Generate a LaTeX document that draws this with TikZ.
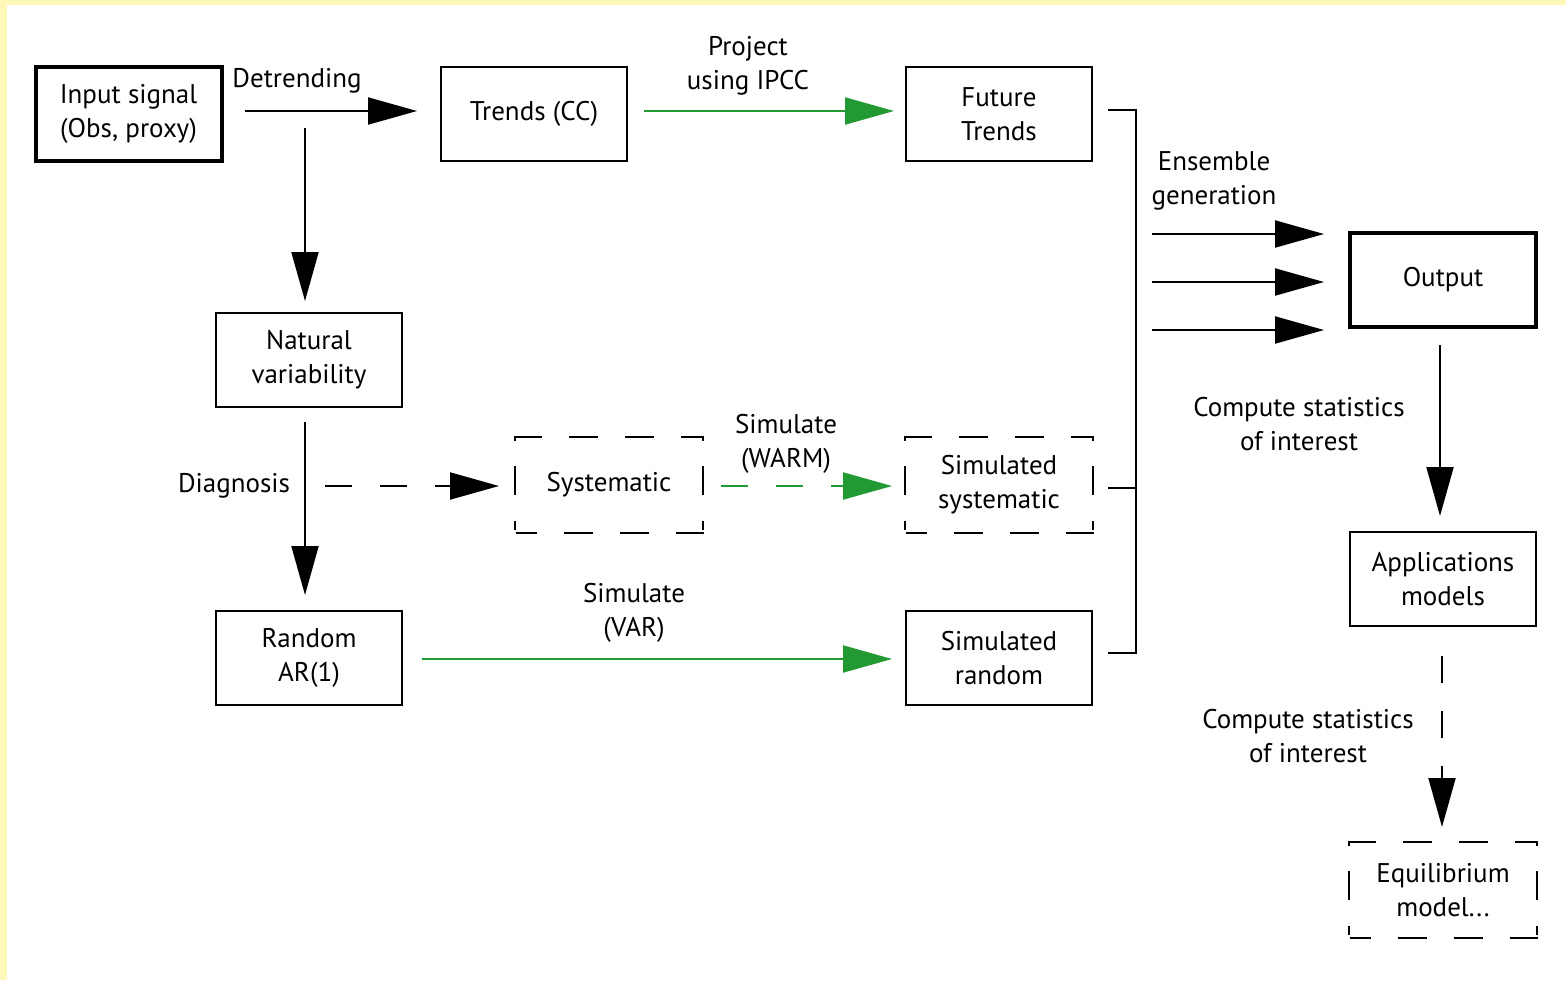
\documentclass[tikz,border=0pt]{standalone}
\usepackage{fontspec}
\setmainfont{PT Sans}
\usetikzlibrary{arrows.meta}
\definecolor{bgyellow}{RGB}{255,248,184}
\definecolor{arrgreen}{RGB}{34,153,51}
\tikzset{
  box/.style={draw=black, line width=2pt, minimum width=186pt, minimum height=94pt, inner sep=0pt, align=center, font=\fontsize{27}{34}\selectfont},
  thickbox/.style={box, line width=4pt},
  dbox/.style={box, draw=none},
  hdash/.style={line width=2pt, line cap=rect, dash pattern=on 26pt off 29pt on 27pt off 29pt on 27pt off 29pt on 19pt off 100pt},
  vdash/.style={line width=2pt, line cap=rect, dash pattern=on 3pt off 27pt on 27pt off 28pt on 7pt off 100pt},
  lbl/.style={align=center, inner sep=0pt, font=\fontsize{27}{34}\selectfont},
  conn/.style={line width=2pt, -{Triangle[length=49pt,width=27pt]}},
  gconn/.style={conn, draw=arrgreen, -{Triangle[length=49pt,width=27pt,fill=arrgreen]}},
  dsh/.style={dash pattern=on 27pt off 28pt},
  plain/.style={line width=2pt}
}
\newcommand\dashedbox[1]{%
  \draw[hdash] (#1.north west) -- (#1.north east);
  \draw[hdash] (#1.south east) -- (#1.south west);
  \draw[vdash] (#1.north west) -- (#1.south west);
  \draw[vdash] (#1.north east) -- (#1.south east);}
\begin{document}
\begin{tikzpicture}[x=1pt,y=-1pt]
\useasboundingbox (0,0) rectangle (1566,980);
\fill[bgyellow] (0,0) rectangle (1566,980);
\fill[white] (7,5) rectangle (1566,980);

% boxes
\node[thickbox] (in) at (128.5,114) {Input signal\\(Obs, proxy)};
\node[box] (trends) at (534,114) {Trends (CC)};
\node[box] (future) at (999,114) {Future\\Trends};
\node[box] (nat) at (309,360) {Natural\\variability};
\node[dbox] (sys) at (609,485) {Systematic};
\node[dbox] (simsys) at (999,485) {Simulated\\systematic};
\node[box] (rand) at (309,658) {Random\\AR(1)};
\node[box] (simrand) at (999,658) {Simulated\\random};
\node[thickbox] (out) at (1443,280) {Output};
\node[box] (app) at (1443,579) {Applications\\models};
\node[dbox] (eq) at (1443,890) {Equilibrium\\model...};
\dashedbox{sys}
\dashedbox{simsys}
\dashedbox{eq}

% labels
\node[lbl] (ldet) at (297,81) {Detrending};
\node[lbl] (lproj) at (748,66) {Project\\using IPCC};
\node[lbl] (lens) at (1214,181) {Ensemble\\generation};
\node[lbl] (lcomp1) at (1299,424) {Compute statistics\\of interest};
\node[lbl] (lcomp2) at (1308,736) {Compute statistics\\of interest};
\node[lbl] (ldiag) at (234,486) {Diagnosis};
\node[lbl] (lwarm) at (786,444) {Simulate\\(WARM)};
\node[lbl] (lvar) at (634,613) {Simulate\\(VAR)};

% connectors
\draw[conn, shorten <=21pt, shorten >=23pt] ([yshift=3pt]in.east) -- ([yshift=3pt]trends.west);
\coordinate (split) at (305,128);
\draw[conn, shorten >=11pt] (split) -- ([xshift=-4pt]nat.north);
\draw[gconn, shorten <=16pt, shorten >=11pt] ([yshift=3pt]trends.east) -- ([yshift=3pt]future.west);
\draw[conn, shorten <=14pt, shorten >=15pt] ([xshift=-4pt]nat.south) -- ([xshift=-4pt]rand.north);
\coordinate (diag) at (305,486);
\draw[conn, dsh, shorten <=20pt, shorten >=16pt] (diag) -- ([yshift=-1pt]sys.west);
\draw[gconn, dsh, shorten <=18pt, shorten >=13pt] ([yshift=-1pt]sys.east) -- ([yshift=-1pt]simsys.west);
\draw[gconn, shorten <=19pt, shorten >=13pt] ([yshift=-1pt]rand.east) -- ([yshift=-1pt]simrand.west);

% bracket
\coordinate (bt) at ([xshift=15pt,yshift=4pt]future.east);
\coordinate (bm) at ([xshift=15pt,yshift=-3pt]simsys.east);
\coordinate (bb) at ([xshift=15pt,yshift=5pt]simrand.east);
\draw[plain] (bt) -- ++(28,0) |- (bb);
\draw[plain] (bm) -- ++(28,0);

% ensemble arrows
\coordinate (e1) at (1152,234);
\coordinate (e2) at (1152,282);
\coordinate (e3) at (1152,330);
\draw[conn, shorten >=24pt] (e1) -- (out.west |- e1);
\draw[conn, shorten >=24pt] (e2) -- (out.west |- e2);
\draw[conn, shorten >=24pt] (e3) -- (out.west |- e3);

\draw[conn, shorten <=16pt, shorten >=15pt] ([xshift=-3pt]out.south) -- ([xshift=-3pt]app.north);
\draw[conn, dsh, shorten <=29pt, shorten >=15pt] ([xshift=-1pt]app.south) -- ([xshift=-1pt]eq.north);
\end{tikzpicture}
\end{document}
